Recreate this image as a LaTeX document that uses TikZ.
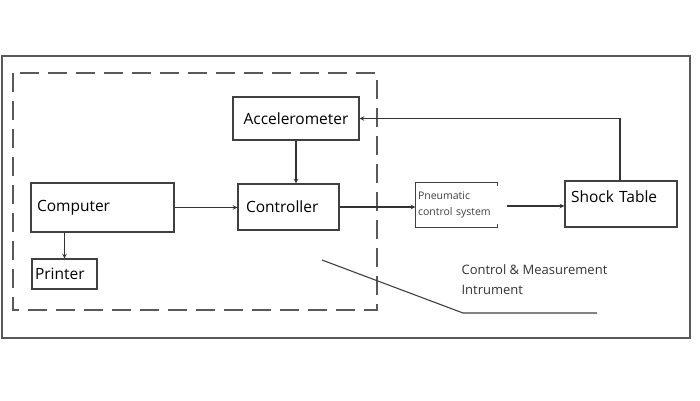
\documentclass[tikz,border=0pt]{standalone}
\usepackage{fontspec}
\setmainfont{Open Sans}
\usepackage{tikz}

\begin{document}
\begin{tikzpicture}[>=stealth, x=1pt, y=-1pt, line width=1.1pt]
    % styles
    \tikzstyle{block}=[draw=black!75, rectangle, inner ysep=0pt, font=\fontsize{15.5}{18}\selectfont]
    \tikzstyle{frame}=[draw=black!65, line width=1.2pt]
    \tikzstyle{link}=[draw=black!80, ->]

    \useasboundingbox (0,0) rectangle (700,400);

    % outer frames
    \draw[frame] (2,56) rectangle (690,338);
    \draw[frame, dash pattern=on 19pt off 9pt] (13,73) rectangle (377,310);

    % blocks
    \node[block, minimum width=126pt, minimum height=43pt] (acc) at (296,118.5) {Accelerometer};
    \node[block, minimum width=143pt, minimum height=49pt, inner xsep=6pt, text width=131pt, align=left] (comp) at (102.5,207.5) {Computer};
    \node[block, minimum width=101pt, minimum height=46pt, inner xsep=8pt, text width=85pt, align=left] (ctrl) at (288.5,207) {Controller};
    \node[block, minimum width=65pt, minimum height=30pt, inner xsep=3pt, text width=59pt, align=left] (prn) at (64.5,274) {Printer};
    \node[block, draw=none, minimum width=81pt, minimum height=44pt, inner xsep=2pt, text width=77pt, align=left,
          font=\fontsize{10.5}{16}\selectfont, text=black!75] (pneu) at (456.5,205) {Pneumatic\\control system};
    \node[block, minimum width=112pt, minimum height=46pt, inner xsep=6pt, text width=100pt, align=left,
          text height=10pt, text depth=14pt] (shock) at (621,204) {Shock Table};

    % open box round the pneumatic part
    \draw[draw=black!75] ([yshift=4pt]pneu.south east) -- (pneu.south east) -- (pneu.south west)
        -- (pneu.north west) -- (pneu.north east) -- ([yshift=-4pt]pneu.north east);

    % connections
    \draw[link] (comp.east) -- (comp.east -| ctrl.west);
    \draw[link] (acc.south) -- (acc.south |- ctrl.north);
    \draw[link] (comp.south -| prn.north) -- (prn.north);
    \draw[link] (ctrl.east) -- (ctrl.east -| pneu.west);
    \draw[link] ([xshift=9pt, yshift=-1pt]pneu.east) -- ([yshift=-1pt]pneu.east -| shock.west);
    \draw[link] ([xshift=-1pt]shock.north) |- (acc.east);

    % pointer to label
    \coordinate (p1) at (322,260);
    \coordinate (p2) at (463,313);
    \coordinate (p3) at (597,313);
    \draw[draw=black!75] (p1) -- (p2) -- (p3);
    \node[anchor=north west, inner sep=0pt, align=left, text=black!80, font=\fontsize{13}{20}\selectfont] (lbl) at (461,264)
        {Control \& Measurement\\Intrument};
\end{tikzpicture}
\end{document}
